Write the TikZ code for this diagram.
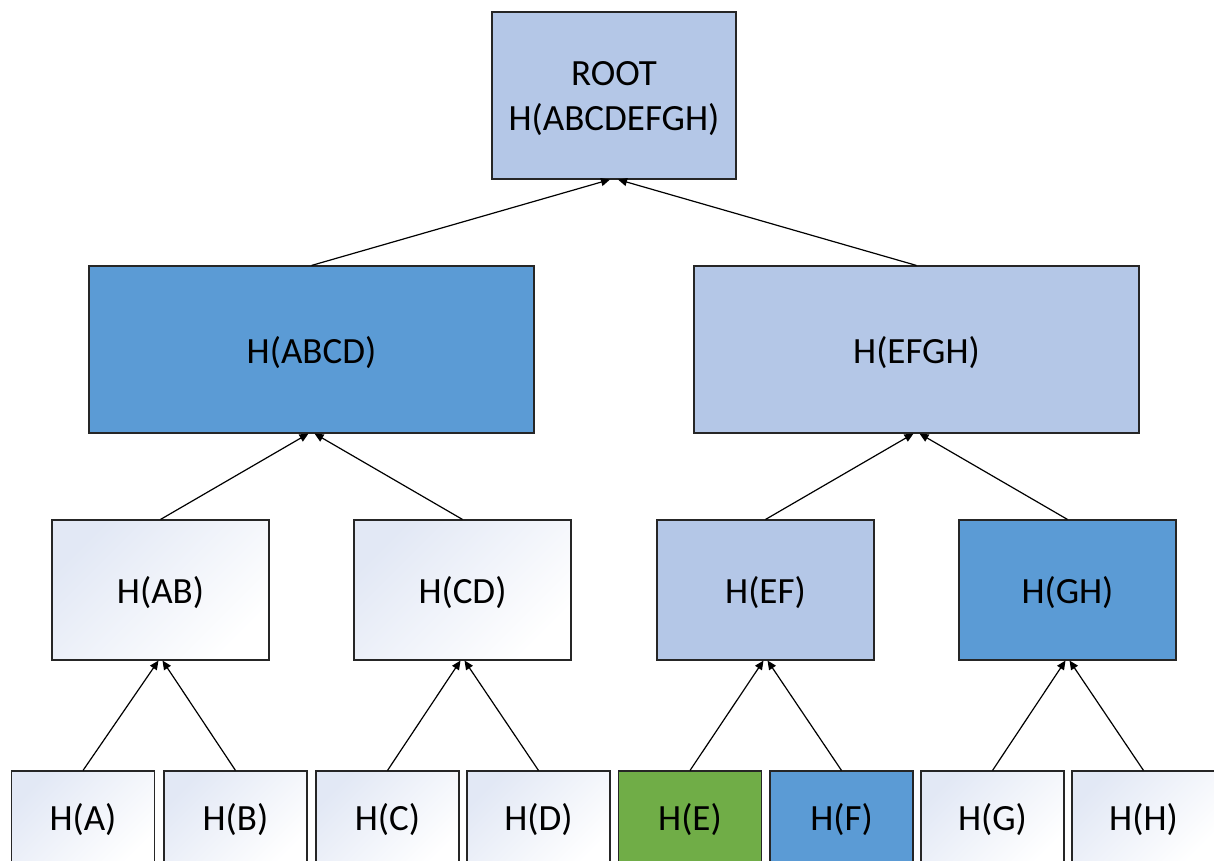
\documentclass[tikz,border=0pt]{standalone}
\usepackage{fontspec}
\setmainfont{Carlito}
\usetikzlibrary{arrows.meta}
\definecolor{lblue}{HTML}{B4C7E7}
\definecolor{mblue}{HTML}{5B9BD5}
\definecolor{mgreen}{HTML}{70AD47}
\definecolor{gtop}{HTML}{E2E8F5}
\newcommand{\lowtxt}[1]{\raisebox{-3pt}[\height][\depth]{#1}}
\begin{document}
\begin{tikzpicture}[x=1pt,y=-1pt,
  box/.style={draw=black!85, line width=1.1pt, inner sep=0pt, align=center,
    font=\fontsize{37}{45}\selectfont},
  bigbox/.style={box, minimum width=445pt, minimum height=167pt},
  midbox/.style={box, minimum width=217pt, minimum height=140pt},
  leafbox/.style={box, minimum width=143pt, minimum height=98pt},
  plain/.style={top color=gtop, bottom color=white, shading angle=45},
  arr/.style={-{Triangle[length=9pt,width=8pt]}, line width=1.2pt}]
\useasboundingbox (0,0) rectangle (1214,860);
\clip (0,0) rectangle (1214,860);
% root
\node[box, fill=lblue, minimum width=244pt, minimum height=167pt] (root) at (614,95.5)
  {\lowtxt{\begin{tabular}{@{}c@{}}ROOT\\H(ABCDEFGH)\end{tabular}}};
% level 2
\node[bigbox, fill=mblue] (abcd) at (311.5,349.5) {\lowtxt{H(ABCD)}};
\node[bigbox, fill=lblue] (efgh) at (916.5,349.5) {\lowtxt{H(EFGH)}};
% level 3
\node[midbox, plain] (ab) at (160.5,590) {\lowtxt{H(AB)}};
\node[midbox, plain] (cd) at (462.5,590) {\lowtxt{H(CD)}};
\node[midbox, fill=lblue] (ef) at (765.5,590) {\lowtxt{H(EF)}};
\node[midbox, fill=mblue] (gh) at (1067.5,590) {\lowtxt{H(GH)}};
% leaves
\node[leafbox, plain] (a) at (83,820) {H(A)};
\node[leafbox, plain] (b) at (235.5,820) {H(B)};
\node[leafbox, plain] (c) at (387.5,820) {H(C)};
\node[leafbox, plain] (d) at (538.5,820) {H(D)};
\node[leafbox, fill=mgreen] (e) at (690,820) {H(E)};
\node[leafbox, fill=mblue] (f) at (841.5,820) {H(F)};
\node[leafbox, plain] (g) at (992.5,820) {H(G)};
\node[leafbox, plain] (h) at (1143.5,820) {H(H)};
% arrows
\draw[arr] (abcd.north) -- ([xshift=-4pt]root.south);
\draw[arr] (efgh.north) -- ([xshift=4pt]root.south);
\draw[arr] (ab.north) -- ([xshift=-3pt]abcd.south);
\draw[arr] (cd.north) -- ([xshift=3pt]abcd.south);
\draw[arr] (ef.north) -- ([xshift=-3pt]efgh.south);
\draw[arr] (gh.north) -- ([xshift=3pt]efgh.south);
\draw[arr] (a.north) -- ([xshift=-2pt]ab.south);
\draw[arr] (b.north) -- ([xshift=2pt]ab.south);
\draw[arr] (c.north) -- ([xshift=-2pt]cd.south);
\draw[arr] (d.north) -- ([xshift=2pt]cd.south);
\draw[arr] (e.north) -- ([xshift=-2pt]ef.south);
\draw[arr] (f.north) -- ([xshift=2pt]ef.south);
\draw[arr] (g.north) -- ([xshift=-2pt]gh.south);
\draw[arr] (h.north) -- ([xshift=2pt]gh.south);
\end{tikzpicture}
\end{document}
